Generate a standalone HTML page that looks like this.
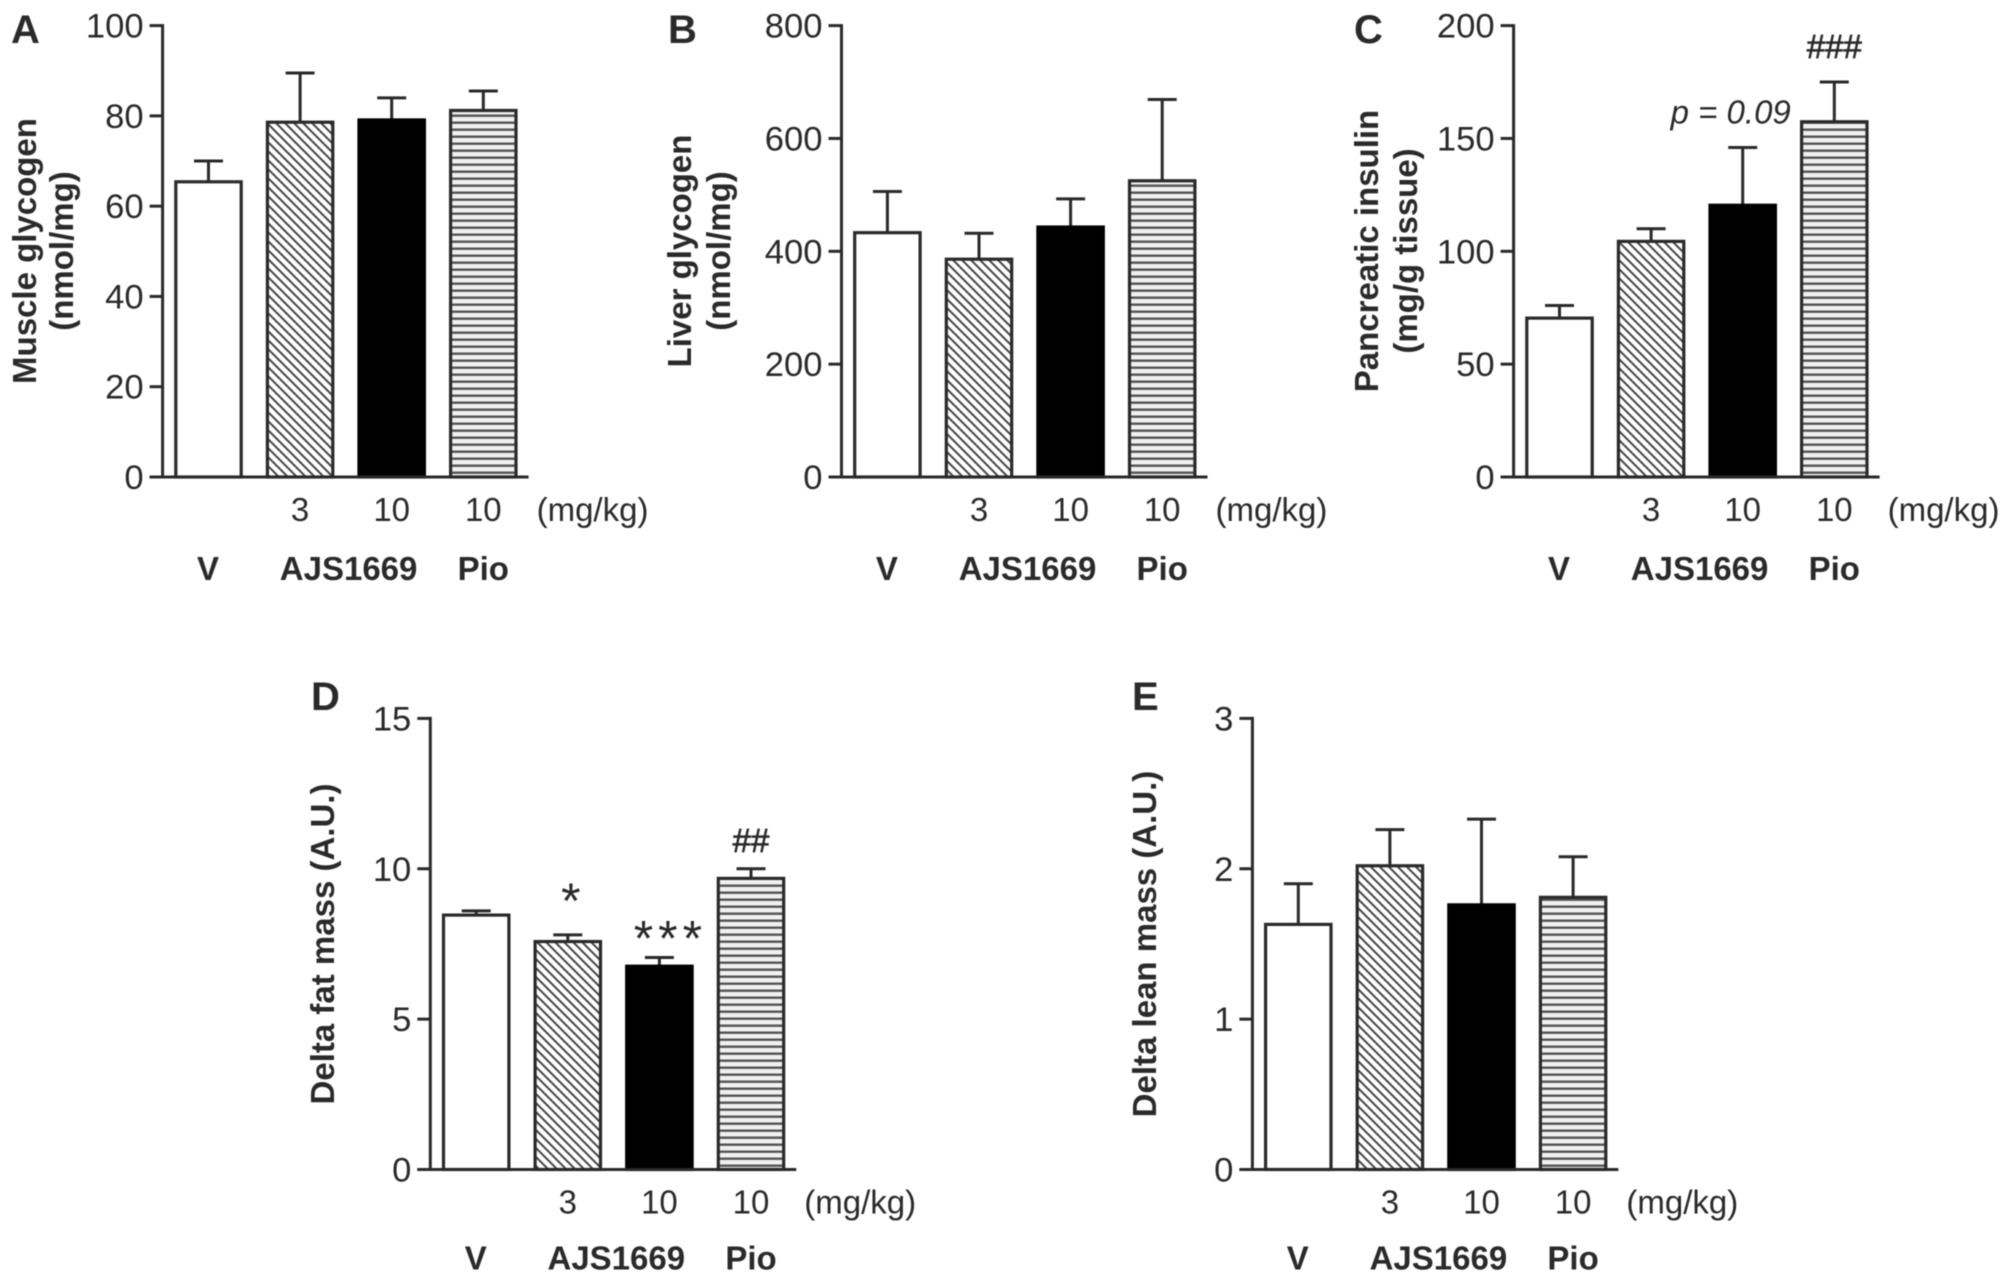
<!DOCTYPE html>
<html lang="en">
<head>
<meta charset="utf-8">
<title>AJS1669 bar chart panels</title>
<style>
  html, body { margin: 0; padding: 0; background: #fff; }
  svg { display: block; filter: blur(0.5px); }
  text { font-family: "Liberation Sans", Arial, sans-serif; fill: #2a2a2a; }
</style>
</head>
<body>
<svg id="figure" xmlns="http://www.w3.org/2000/svg" width="2008" height="1286" viewBox="0 0 2008 1286">
  <defs>
    <pattern id="hatch-diagonal" patternUnits="userSpaceOnUse" width="9" height="9">
      <rect width="9" height="9" fill="#fff"/>
      <path d="M-2,-2 L11,11 M-2,7 L2,11 M7,-2 L11,2" stroke="#444" stroke-width="2" fill="none"/>
    </pattern>
    <pattern id="hatch-horizontal" patternUnits="userSpaceOnUse" width="8" height="7">
      <rect width="8" height="7" fill="#f0f0f0"/>
      <rect y="2.5" width="8" height="2.4" fill="#555"/>
    </pattern>
  </defs>
</svg>
<script>
// Chart data
const doseLabels = ["3", "10", "10"];
const groupLabels = ["V", "AJS1669", "Pio"];
const unitLabel = "(mg/kg)";

const muscleTicks = [0, 20, 40, 60, 80, 100];
const muscleMeans = [65.4, 78.6, 79.1, 81.2];
const muscleErrorTops = [70, 89.5, 84, 85.5];

const liverTicks = [0, 200, 400, 600, 800];
const liverMeans = [433, 386, 443, 525];
const liverErrorTops = [506, 432, 493, 669];

const insulinTicks = [0, 50, 100, 150, 200];
const insulinMeans = [70.4, 104.4, 120.4, 157.4];
const insulinErrorTops = [76, 110, 146, 175];

const fatTicks = [0, 5, 10, 15];
const fatMeans = [8.46, 7.58, 6.76, 9.68];
const fatErrorTops = [8.6, 7.8, 7.05, 10];

const leanTicks = [0, 1, 2, 3];
const leanMeans = [1.63, 2.02, 1.76, 1.81];
const leanErrorTops = [1.9, 2.26, 2.33, 2.08];

const NS = "http://www.w3.org/2000/svg";
const svg = document.getElementById("figure");
const INK = "#2a2a2a";
const barFills = ["#fff", "url(#hatch-diagonal)", "#000", "url(#hatch-horizontal)"];
const barNames = ["vehicle", "ajs1669-3", "ajs1669-10", "pio-10"];

function make(tag, attrs, text) {
  const el = document.createElementNS(NS, tag);
  for (const k in attrs) el.setAttribute(k, attrs[k]);
  if (text !== undefined) el.textContent = text;
  return el;
}

function addLine(parent, x1, y1, x2, y2, width, name) {
  const el = make("line", { x1: x1, y1: y1, x2: x2, y2: y2, stroke: INK, "stroke-width": width });
  
  
  parent.appendChild(el);
  return el;
}

function addText(parent, str, x, y, size, opts, name) {
  const el = make("text", Object.assign({ x: x, y: y, "font-size": size }, opts), str);
  
  
  parent.appendChild(el);
  return el;
}

function drawPanel(cfg) {
  const g = make("g", {});
  
  
  svg.appendChild(g);

  const maxTick = cfg.ticks[cfg.ticks.length - 1];
  const yScale = function (v) { return cfg.bottom - (v / maxTick) * (cfg.bottom - cfg.top); };
  const barLeft = function (i) { return cfg.axisX + 13.2 + i * 91.6; };
  const barWidth = 65.4;

  addText(g, cfg.letter, cfg.letterX, cfg.letterY, 40, { "font-weight": "bold", fill: "#111" }, 'panel-letter-' + cfg.letter.toLowerCase());

  // bars and error bars
  cfg.means.forEach(function (mean, i) {
    const x = barLeft(i);
    const cx = x + barWidth / 2;
    const yTop = yScale(mean);
    const yErr = yScale(cfg.errorTops[i]);
    addLine(g, cx, yTop, cx, yErr, 3, 'error-bar-' + barNames[i]);
    addLine(g, cx - 14.5, yErr, cx + 14.5, yErr, 3, 'error-cap-' + barNames[i]);
    const bar = make("rect", {
      x: x, y: yTop, width: barWidth, height: cfg.bottom - yTop,
      fill: barFills[i], stroke: i === 2 ? "#000" : INK, "stroke-width": 3.2
    });
    
    
    g.appendChild(bar);
  });

  // axes
  addLine(g, cfg.axisX, cfg.top - 1.5, cfg.axisX, cfg.bottom + 1.5, 3, 'y-axis');
  addLine(g, cfg.axisX - 13, cfg.bottom, cfg.axisX + 366, cfg.bottom, 3, 'x-axis');
  cfg.ticks.forEach(function (t) {
    const y = yScale(t);
    addLine(g, cfg.axisX - 13, y, cfg.axisX, y, 3, 'y-tick-' + t);
    addText(g, String(t), cfg.axisX - 19, y + 12, 34.6, { "text-anchor": "end" }, 'y-tick-label-' + t);
  });

  // y axis titles
  cfg.titles.forEach(function (line, i) {
    const bx = cfg.titleX[i];
    addText(g, line, 0, 0, 33, {
      "font-weight": "bold", "text-anchor": "middle",
      transform: "translate(" + bx + "," + cfg.titleY + ") rotate(-90)"
    }, i === 0 ? 'y-axis-title' : 'y-axis-unit');
  });

  // dose labels
  doseLabels.forEach(function (d, i) {
    addText(g, d, barLeft(i + 1) + barWidth / 2, cfg.bottom + cfg.doseDy, 33, { "text-anchor": "middle" }, 'dose-label-' + (i + 1));
  });
  addText(g, unitLabel, cfg.axisX + 374, cfg.bottom + cfg.doseDy, 33, {}, 'dose-unit');

  // group labels
  const groupCenters = [barLeft(0) + barWidth / 2 - 0.5, cfg.axisX + 186, barLeft(3) + barWidth / 2];
  groupLabels.forEach(function (name, i) {
    addText(g, name, groupCenters[i], cfg.bottom + cfg.groupDy, 33, { "font-weight": "bold", "text-anchor": "middle" }, 'group-label-' + name.toLowerCase());
  });

  // significance annotations
  (cfg.notes || []).forEach(function (n) {
    addText(g, n.text, barLeft(n.bar) + barWidth / 2 + n.dx, yScale(cfg.errorTops[n.bar]) + n.dy, n.size,
      { "text-anchor": "middle", "font-style": n.italic ? "italic" : "normal", "letter-spacing": n.spacing || 0, stroke: n.heavy ? "#2a2a2a" : "none", "stroke-width": n.heavy ? 0.7 : 0 }, n.name);
  });
}

drawPanel({
  letter: "A", letterX: 11, letterY: 43, axisX: 162.6, top: 25.6, bottom: 477, doseDy: 44, groupDy: 103,
  ticks: muscleTicks, means: muscleMeans, errorTops: muscleErrorTops,
  titles: ["Muscle glycogen", "(nmol/mg)"], titleX: [36, 73], titleY: 251
});
drawPanel({
  letter: "B", letterX: 668, letterY: 43, axisX: 841.5, top: 25.6, bottom: 477, doseDy: 44, groupDy: 103,
  ticks: liverTicks, means: liverMeans, errorTops: liverErrorTops,
  titles: ["Liver glycogen", "(nmol/mg)"], titleX: [691, 730], titleY: 251
});
drawPanel({
  letter: "C", letterX: 1354, letterY: 43, axisX: 1513.6, top: 25.6, bottom: 477, doseDy: 44, groupDy: 103,
  ticks: insulinTicks, means: insulinMeans, errorTops: insulinErrorTops,
  titles: ["Pancreatic insulin", "(mg/g tissue)"], titleX: [1378, 1417], titleY: 251,
  notes: [
    { text: "###", bar: 3, dx: 0, dy: -24, size: 33, heavy: true, name: "significance-hash" },
    { text: "p = 0.09", bar: 2, dx: -12, dy: -24, size: 33, italic: true, name: "p-value-annotation" }
  ]
});
drawPanel({
  letter: "D", letterX: 311, letterY: 710, axisX: 430.3, top: 718.4, bottom: 1169.5, doseDy: 44, groupDy: 100,
  ticks: fatTicks, means: fatMeans, errorTops: fatErrorTops,
  titles: ["Delta fat mass (A.U.)"], titleX: [334], titleY: 944,
  notes: [
    { text: "*", bar: 1, dx: 3, dy: -17, size: 50, name: "significance-star" },
    { text: "***", bar: 2, dx: 11, dy: -2, size: 50, spacing: 5, name: "significance-stars" },
    { text: "##", bar: 3, dx: 0, dy: -17, size: 33, heavy: true, name: "significance-hash" }
  ]
});
drawPanel({
  letter: "E", letterX: 1132, letterY: 710, axisX: 1252.4, top: 718.4, bottom: 1169.5, doseDy: 44, groupDy: 100,
  ticks: leanTicks, means: leanMeans, errorTops: leanErrorTops,
  titles: ["Delta lean mass (A.U.)"], titleX: [1156], titleY: 944
});
</script>
</body>
</html>
